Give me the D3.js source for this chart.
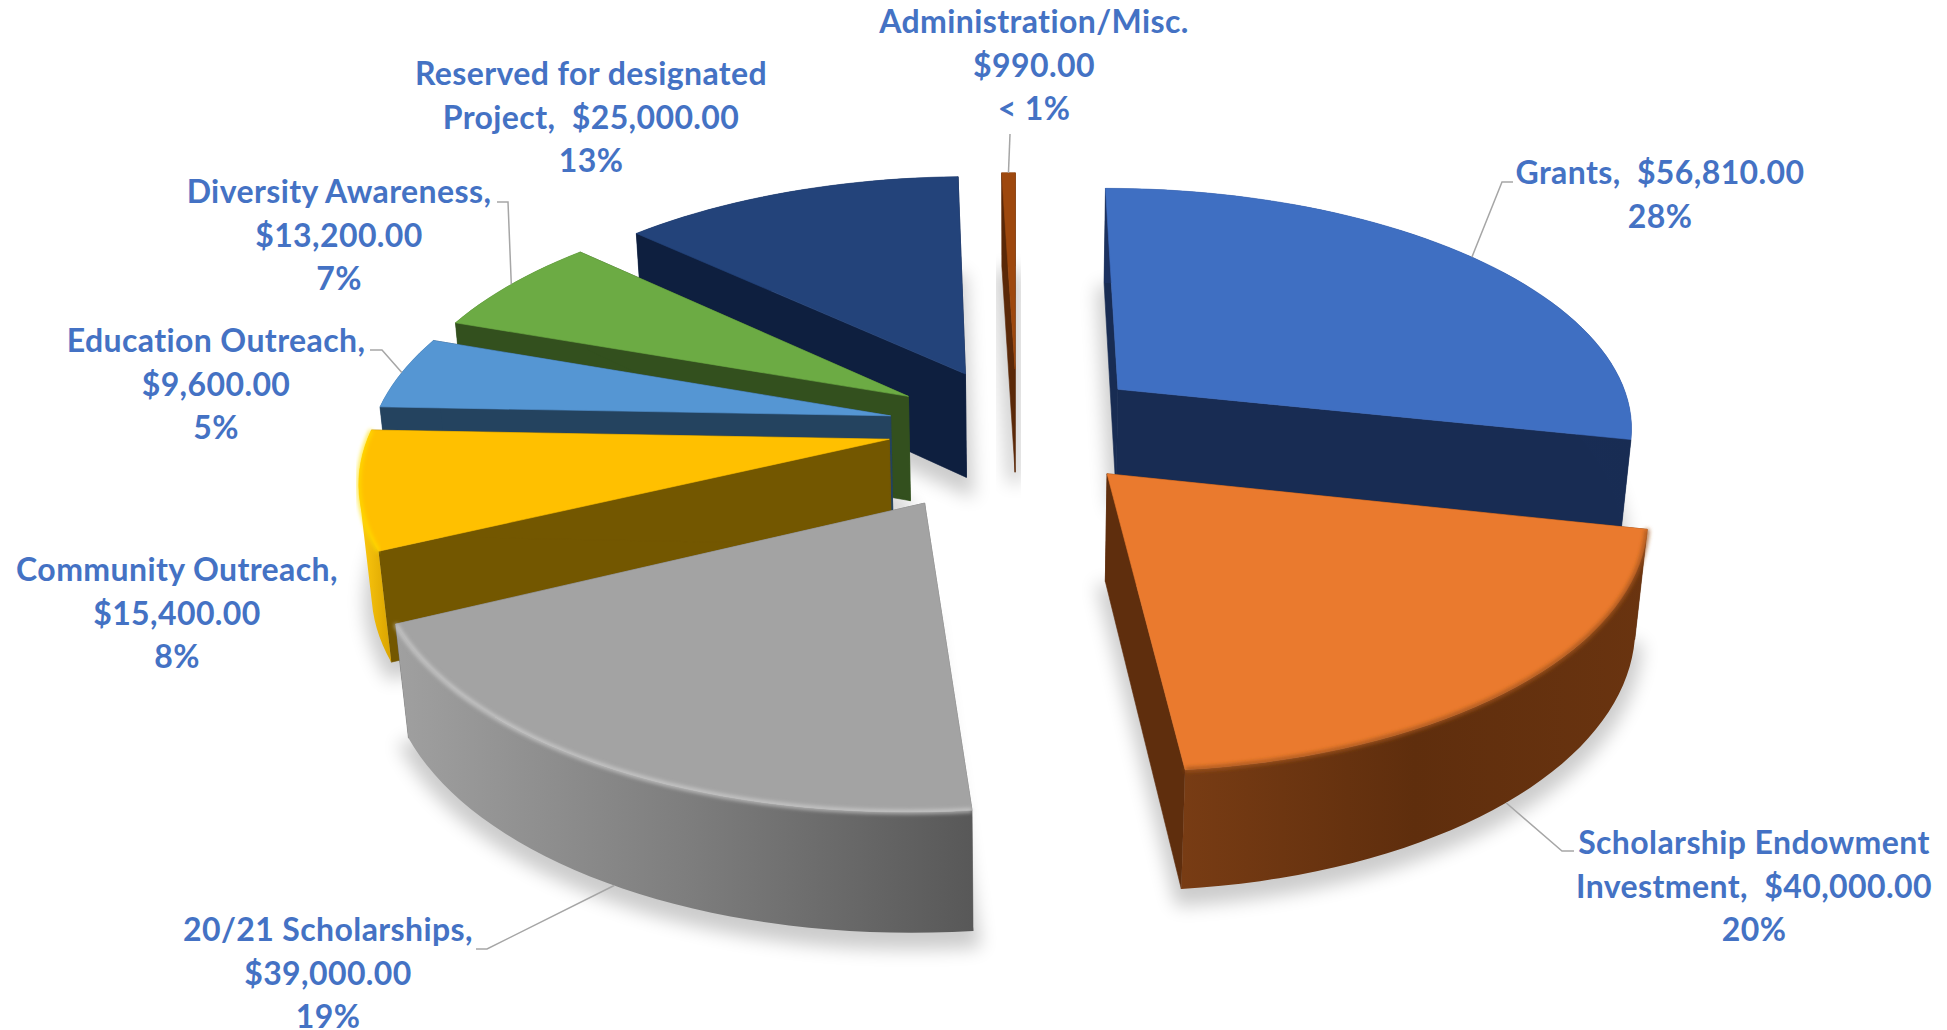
<!DOCTYPE html>
<html>
<head>
<meta charset="utf-8">
<script src="https://d3js.org/d3.v7.min.js"></script>
<style>
    body { margin: 0; background: #fff; }
    text { font-family: Lato, sans-serif; font-weight: 700; font-size: 32px; letter-spacing: 0.4px; fill: #4472c4; text-anchor: middle; white-space: pre; }
</style>
</head>
<body>
<script>
let width = 1947;
let height = 1030;

let categories = ["Grants", "Scholarship Endowment Investment", "20/21 Scholarships", "Community Outreach",
    "Education Outreach", "Diversity Awareness", "Reserved for designated Project", "Administration/Misc."];
let values = [56810, 40000, 39000, 15400, 9600, 13200, 25000, 990];
let explode = [0.256, 0.254, 0.348, 0.25, 0.25, 0.25, 0.25, 0.25];

let topColors = ["#3f6fc2", "#ea7a2e", "#a3a3a3", "#ffc000", "#5596d3", "#6cab44", "#23437a", "#9e480e"];
let wallColors = ["#182c53", "#5f2e0d", "#6a6a6a", "#735700", "#24435f", "#33501e", "#0e1f3f", "#5a2808"];
let rimStops = [["#1b3160", "#182c53"], ["#783c14", "#5f2e0d", "#6a3410"], ["#a0a0a0", "#7e7e7e", "#585858"],
    ["#ffcb10", "#d9a300"], ["#24435f", "#24435f"], ["#33501e", "#33501e"], ["#0e1f3f", "#0e1f3f"], ["#5a2808", "#5a2808"]];

let labelLines = [
    ["Grants,  $56,810.00", "28%"],
    ["Scholarship Endowment", "Investment,  $40,000.00", "20%"],
    ["20/21 Scholarships,", "$39,000.00", "19%"],
    ["Community Outreach,", "$15,400.00", "8%"],
    ["Education Outreach,", "$9,600.00", "5%"],
    ["Diversity Awareness,", "$13,200.00", "7%"],
    ["Reserved for designated", "Project,  $25,000.00", "13%"],
    ["Administration/Misc.", "$990.00", "< 1%"]
];
let labelX = [1660, 1754, 328, 177, 216, 339, 591, 1034];
let labelY = [184, 854, 941, 581, 352, 203, 85, 33];
// leader: [end next to the label, elbow], then it runs to the rim of the slice
let leaders = [[[1513, 182], [1502, 182]], [[1574, 851], [1562, 851]], [[476, 949], [487, 949]], null,
    [[370, 350], [382, 350]], [[497, 202], [508, 202]], null, [[1010, 134], [1010, 134]]];
let leaderOnBottom = [false, true, true, false, false, false, false, false];

// camera: plain perspective over the pie plane, radius 1, Y going away from the viewer
let cam = { a: 518, b: 240, k: 0.144, cx: 1017, cy: 427, q: 0.019, g: 107.7 };

function project(X, Y, bottom) {
    let w = 1 + cam.k * Y + (bottom ? cam.q : 0);
    return [cam.cx + cam.a * X / w, cam.cy + (-cam.b * Y + (bottom ? cam.g : 0)) / w];
}

let svg = d3.select("body").append("svg")
    .attr("width", width)
    .attr("height", height)
    .style("display", "block")
    .style("background-color", "white");

let defs = svg.append("defs");
defs.append("filter").attr("id", "shadow")
    .attr("x", "-40%").attr("y", "-40%").attr("width", "180%").attr("height", "180%")
    .append("feGaussianBlur").attr("stdDeviation", 9);
defs.append("filter").attr("id", "soft")
    .attr("x", "-10%").attr("y", "-10%").attr("width", "120%").attr("height", "120%")
    .append("feGaussianBlur").attr("stdDeviation", 2.2);

let line = d3.line();
let slices = d3.pie().sort(null)(values).map(function (d, i) {
    let mid = (d.startAngle + d.endAngle) / 2;
    let ox = explode[i] * Math.sin(mid);
    let oy = explode[i] * Math.cos(mid);
    let steps = Math.max(2, Math.ceil((d.endAngle - d.startAngle) * 30));
    let angles = d3.range(steps + 1).map(function (s) {
        return d.startAngle + (d.endAngle - d.startAngle) * s / steps;
    });
    function rim(bottom) {
        return angles.map(function (t) {
            return project(ox + Math.sin(t), oy + Math.cos(t), bottom);
        });
    }
    return {
        i: i,
        mid: mid,
        ox: ox,
        oy: oy,
        tipTop: project(ox, oy, false),
        tipBottom: project(ox, oy, true),
        rimTop: rim(false),
        rimBottom: rim(true)
    };
});

// soft shadows go under everything
svg.append("g").selectAll("path")
    .data(slices)
    .enter()
    .append("path")
    .attr("d", function (s) { return line([s.tipBottom].concat(s.rimBottom)) + "Z"; })
    .attr("transform", "translate(0,10)")
    .attr("fill", "#000")
    .attr("stroke", "#000")
    .attr("stroke-width", 14)
    .attr("opacity", 0.2)
    .attr("filter", "url(#shadow)");

// back to front
let drawOrder = [6, 7, 5, 4, 3, 0, 1, 2];
drawOrder.forEach(function (i) {
    let s = slices[i];
    let g = svg.append("g");
    let n = s.rimTop.length - 1;

    // radial walls
    [0, n].forEach(function (k) {
        g.append("path")
            .attr("d", line([s.tipTop, s.rimTop[k], s.rimBottom[k], s.tipBottom]) + "Z")
            .attr("fill", wallColors[i])
            .attr("stroke", wallColors[i])
            .attr("stroke-width", 0.6);
    });

    // outer wall, shaded left to right. One path of same-wound quads keeps the
    // silhouette closed where the rim turns, and leaves no seams
    let xs = s.rimTop.concat(s.rimBottom).map(function (p) { return p[0]; });
    let grad = defs.append("linearGradient")
        .attr("id", "rim" + i)
        .attr("gradientUnits", "userSpaceOnUse")
        .attr("x1", d3.min(xs)).attr("x2", d3.max(xs))
        .attr("y1", 0).attr("y2", 0);
    rimStops[i].forEach(function (c, k) {
        grad.append("stop").attr("offset", k / (rimStops[i].length - 1)).attr("stop-color", c);
    });
    let wall = d3.range(n).map(function (j) {
        let quad = [s.rimTop[j], s.rimTop[j + 1], s.rimBottom[j + 1], s.rimBottom[j]];
        if (d3.polygonArea(quad) < 0) quad.reverse();
        return line(quad) + "Z";
    }).join("");
    g.append("path")
        .attr("d", wall)
        .attr("fill", "url(#rim" + i + ")");

    // top face
    g.append("path")
        .attr("d", line([s.tipTop].concat(s.rimTop)) + "Z")
        .attr("fill", topColors[i])
        .attr("stroke", topColors[i])
        .attr("stroke-width", 0.6);

    // bevel along the front rims
    if (i == 1) {
        g.append("path").attr("d", line(s.rimTop)).attr("fill", "none")
            .attr("stroke", "#a3541d").attr("stroke-width", 4).attr("filter", "url(#soft)");
    }
    if (i == 2) {
        g.append("path").attr("d", line(s.rimTop)).attr("fill", "none")
            .attr("stroke", "#d6d6d6").attr("stroke-width", 3).attr("filter", "url(#soft)");
    }
    if (i == 3) {
        g.append("path").attr("d", line(s.rimTop)).attr("fill", "none")
            .attr("stroke", "#ffe100").attr("stroke-width", 3).attr("filter", "url(#soft)");
    }
});

// leader lines end on the slice rim at its middle angle
let leaderG = svg.append("g");
leaders.forEach(function (l, i) {
    if (!l) return;
    let s = slices[i];
    let end = project(s.ox + Math.sin(s.mid), s.oy + Math.cos(s.mid), leaderOnBottom[i]);
    leaderG.append("path")
        .attr("d", line([l[0], l[1], end]))
        .attr("fill", "none")
        .attr("stroke", "#a6a6a6")
        .attr("stroke-width", 1.5);
});

// data labels
labelLines.forEach(function (lines, i) {
    let t = svg.append("text");
    lines.forEach(function (txt, k) {
        t.append("tspan")
            .attr("x", labelX[i])
            .attr("y", labelY[i] + k * 43.5)
            .text(txt);
    });
});
</script>
</body>
</html>
